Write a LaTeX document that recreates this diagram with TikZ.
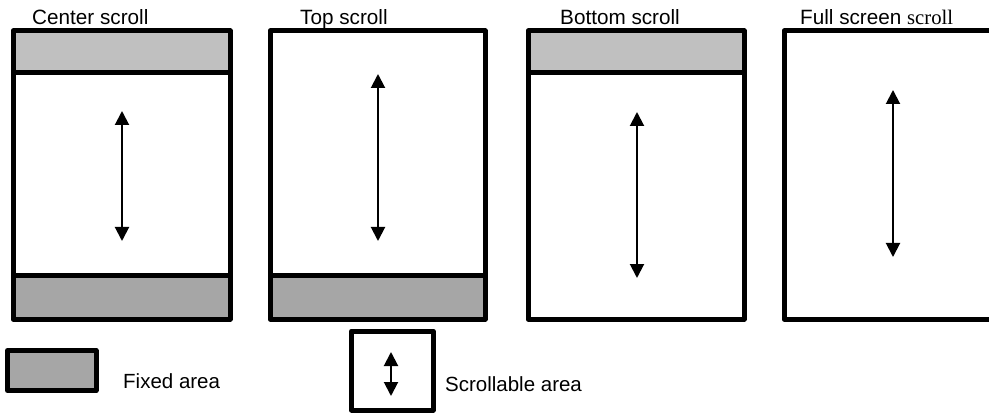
\documentclass[tikz,border=0pt]{standalone}
\usepackage{fontspec}
\setmainfont{Liberation Sans}
\newfontfamily\serifpart{Liberation Serif}
\usetikzlibrary{arrows.meta}
\definecolor{lightfix}{HTML}{C0C0C0}
\definecolor{darkfix}{HTML}{A6A6A6}
\begin{document}
\begin{tikzpicture}[x=1pt,y=-1pt,
  frame/.style={draw=black,line width=5pt,line join=round},
  divider/.style={draw=black,line width=5pt},
  scrollarrow/.style={line width=2pt,{Triangle[length=14pt,width=14pt]}-{Triangle[length=14pt,width=14pt]}},
  title/.style={anchor=base west,inner sep=0pt,font=\fontsize{20.7}{24}\selectfont},
  legendtext/.style={anchor=base west,inner sep=0pt,font=\fontsize{20.5}{24}\selectfont}]
\useasboundingbox (0,0) rectangle (989,417);
\clip (0,0) rectangle (989,417);

% ---------- Center scroll ----------
\node[title] (t1) at (32,25) {Center scroll};
\fill[lightfix] (13,31) rectangle (230,73);
\fill[darkfix] (13,275) rectangle (230,319);
\draw[divider] (13,73) -- (230,73);
\draw[divider] (13,275) -- (230,275);
\draw[frame] (13,31) rectangle (230,319);
\coordinate (a1t) at (122,111);
\coordinate (a1b) at (122,241);
\draw[scrollarrow] (a1t) -- (a1b);

% ---------- Top scroll ----------
\node[title] (t2) at (300,25) {Top scroll};
\fill[darkfix] (270,275) rectangle (485,319);
\draw[divider] (270,275) -- (485,275);
\draw[frame] (270,31) rectangle (485,319);
\coordinate (a2t) at (378,74);
\coordinate (a2b) at (378,241);
\draw[scrollarrow] (a2t) -- (a2b);

% ---------- Bottom scroll ----------
\node[title] (t3) at (560,25) {Bottom scroll};
\fill[lightfix] (528,31) rectangle (744,73);
\draw[divider] (528,73) -- (744,73);
\draw[frame] (528,31) rectangle (744,319);
\coordinate (a3t) at (637,112);
\coordinate (a3b) at (637,278);
\draw[scrollarrow] (a3t) -- (a3b);

% ---------- Full screen scroll ----------
\node[title] (t4) at (800,25) {Full screen {\serifpart scroll}};
\draw[frame] (784,31) rectangle (1000,319);
\coordinate (a4t) at (893,90);
\coordinate (a4b) at (893,257);
\draw[scrollarrow] (a4t) -- (a4b);

% ---------- Legend ----------
\draw[frame,fill=darkfix] (7.5,350.5) rectangle (96,390.5);
\node[legendtext] (l1) at (123,388) {Fixed area};
\draw[frame] (351.5,331) rectangle (433,410);
\coordinate (l2t) at (391,352);
\coordinate (l2b) at (391,396);
\draw[scrollarrow] (l2t) -- (l2b);
\node[legendtext] (l2) at (445,391) {Scrollable area};
\end{tikzpicture}
\end{document}
